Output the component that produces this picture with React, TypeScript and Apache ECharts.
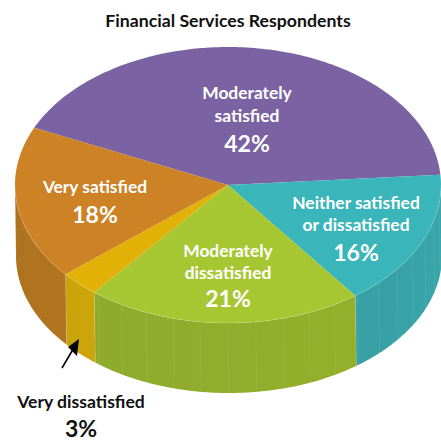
import React, { useEffect, useRef } from "react";
import * as echarts from "echarts";

const titleText = "Financial Services Respondents";
const categories = ["Moderately satisfied", "Neither satisfied or dissatisfied", "Moderately dissatisfied", "Very dissatisfied", "Very satisfied"];
const sharePercent = [42, 16, 21, 3, 18];
const topColors = ["#7A62A3", "#3AB5BA", "#A6C732", "#E2B108", "#CC8225"];
const wallColorsNear = ["#6A5590", "#38A6A9", "#94AF2A", "#CDA509", "#B27520"];
const wallColorsFar = ["#6A5590", "#369FA4", "#8FAB2D", "#C9A30B", "#AE731F"];
const facetAlpha = [0, 0.09, 0.08, 0, 0];

// Tilted disc geometry, in pixels.
const FIRST_SLICE_DEG = -65.5;
const rim = { cx: 228, cy: 185, rx: 213, ry: 138 };
const base = { cx: 229, cy: 256, rx: 213, ry: 137 };
const FACET_DEG = 7.5;

// Text block layout: one entry per slice, lines broken by hand.
const labelLines = [
  ["Moderately", "satisfied"],
  ["Neither satisfied", "or dissatisfied"],
  ["Moderately", "dissatisfied"],
  [],
  ["Very satisfied"],
];
const labelX = [247, 356, 228, 81, 95];
const labelLineY = [[92, 115], [202, 224], [250, 272], [], [186]];
const percentY = [143, 252, 298, 428, 214];

const FONT = "Lato, 'Noto Sans', sans-serif";

const ellipsePoint = (e: typeof rim, deg: number) => {
  const a = (deg * Math.PI) / 180;
  return [e.cx + e.rx * Math.sin(a), e.cy - e.ry * Math.cos(a)];
};

const arcPoints = (e: typeof rim, from: number, to: number) => {
  const n = Math.max(2, Math.ceil(Math.abs(to - from)));
  const pts: number[][] = [];
  for (let i = 0; i <= n; i++) pts.push(ellipsePoint(e, from + ((to - from) * i) / n));
  return pts;
};

// Each slice gets its top face plus, where it faces the viewer, a side wall.
const renderSlice = (params: any, api: any) => {
  const i = params.dataIndex;
  const total = sharePercent.reduce((s, v) => s + v, 0);
  const before = sharePercent.slice(0, i).reduce((s, v) => s + v, 0);
  const from = FIRST_SLICE_DEG + (before / total) * 360;
  const to = from + (Number(api.value(0)) / total) * 360;
  const children: any[] = [];

  const wallFrom = Math.max(from, 90);
  const wallTo = Math.min(to, 270);
  if (wallTo > wallFrom) {
    const topEdge = arcPoints(rim, wallFrom, wallTo);
    const bottomEdge = arcPoints(base, wallTo, wallFrom);
    const xs = [...topEdge, ...bottomEdge].map((p) => p[0]);
    children.push({
      type: "polygon",
      shape: { points: [...topEdge, ...bottomEdge] },
      style: {
        fill: new echarts.graphic.LinearGradient(
          Math.min(...xs), 0, Math.max(...xs), 0,
          [{ offset: 0, color: wallColorsFar[i] }, { offset: 1, color: wallColorsNear[i] }],
          true,
        ),
      },
    });
    if (facetAlpha[i] > 0) {
      for (let d = Math.ceil(wallFrom / FACET_DEG) * FACET_DEG; d < wallTo; d += FACET_DEG) {
        if (d - wallFrom < 1) continue;
        const a = ellipsePoint(rim, d);
        const b = ellipsePoint(base, d);
        children.push({
          type: "line",
          shape: { x1: a[0], y1: a[1], x2: b[0], y2: b[1] },
          style: { stroke: `rgba(255,255,255,${facetAlpha[i]})`, lineWidth: 0.8 },
        });
      }
    }
    [wallFrom, wallTo].forEach((d) => {
      const a = ellipsePoint(rim, d);
      const b = ellipsePoint(base, d);
      children.push({
        type: "line",
        shape: { x1: a[0], y1: a[1], x2: b[0], y2: b[1] },
        style: { stroke: "rgba(255,255,255,0.14)", lineWidth: 0.7 },
      });
    });
  }

  children.push({
    type: "polygon",
    z2: 2,
    shape: { points: [[rim.cx, rim.cy], ...arcPoints(rim, from, to)] },
    style: { fill: topColors[i] },
  });
  if (wallTo > wallFrom) {
    children.push({
      type: "polyline",
      z2: 3,
      shape: { points: arcPoints(rim, wallFrom, wallTo) },
      style: { fill: "none", stroke: "rgba(255,255,255,0.25)", lineWidth: 0.6 },
    });
  }
  return { type: "group", children };
};

const textEl = (text: string, x: number, y: number, fill: string, size: number) => ({
  type: "text",
  x,
  y,
  z: 10,
  style: {
    text,
    fill,
    fontFamily: FONT,
    fontSize: size,
    fontWeight: 700,
    textAlign: "center",
    textVerticalAlign: "middle",
  },
});

const sliceTexts = sharePercent.flatMap((v, i) => {
  const dark = labelLines[i].length === 0;
  const fill = dark ? "#111111" : "#FFFFFF";
  return [
    ...labelLines[i].map((line, k) => textEl(line, labelX[i], labelLineY[i][k], fill, 17.4)),
    textEl(`${v}%`, labelX[i], percentY[i], fill, 23),
  ];
});

export default function App() {
  const ref = useRef<HTMLDivElement>(null);

  useEffect(() => {
    const chart = echarts.init(ref.current!, null, { renderer: "svg" });
    chart.setOption({
      animation: false,
      backgroundColor: "#FFFFFF",
      series: [
        {
          type: "custom",
          coordinateSystem: "none",
          silent: true,
          data: sharePercent.map((v, i) => ({ name: categories[i], value: [v] })),
          renderItem: renderSlice,
        },
      ],
      graphic: [
        textEl(titleText, 228, 20, "#111111", 17.7),
        ...sliceTexts,
        textEl(categories[3], 81, 401, "#111111", 17.6),
        {
          type: "line",
          z: 10,
          shape: { x1: 62, y1: 368, x2: 75, y2: 346 },
          style: { stroke: "#000000", lineWidth: 1.6 },
        },
        {
          type: "polygon",
          z: 10,
          shape: { points: [[79, 339], [68, 347], [77, 356]] },
          style: { fill: "#000000" },
        },
      ],
    });
    return () => chart.dispose();
  }, []);

  return <div ref={ref} style={{ position: "fixed", left: 0, top: 0, width: 441, height: 441 }} />;
}
